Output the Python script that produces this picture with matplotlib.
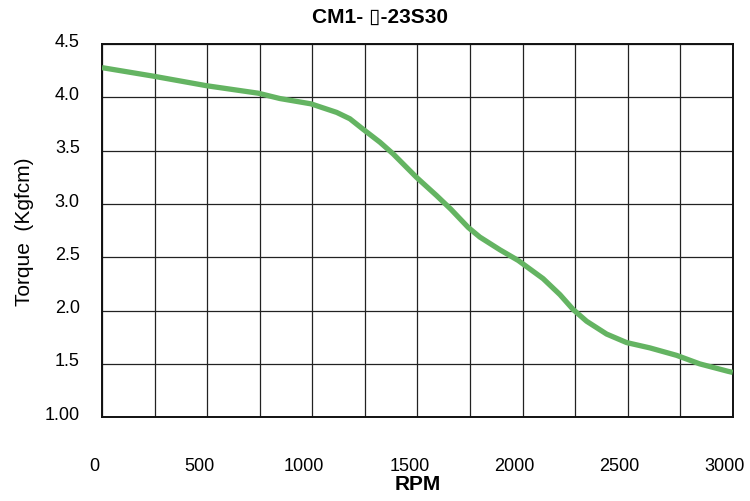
import numpy as np
import matplotlib
matplotlib.use("Agg")
import matplotlib.pyplot as plt
import matplotlib.transforms as mtransforms

# torque curve
rpm = [0, 244, 498, 743, 846, 994, 1116, 1179, 1243, 1322, 1385, 1496, 1591, 1660,
       1742, 1797, 1893, 1980, 2098, 2178, 2241, 2305, 2400, 2495, 2606, 2733, 2843,
       2978, 3000]
torque = [4.28, 4.20, 4.11, 4.04, 3.99, 3.94, 3.86, 3.80, 3.70, 3.58, 3.47, 3.25, 3.08, 2.95,
          2.78, 2.69, 2.57, 2.47, 2.30, 2.15, 2.01, 1.90, 1.78, 1.70, 1.65, 1.58, 1.50,
          1.43, 1.42]

xticks = [0, 500, 1000, 1500, 2000, 2500, 3000]
yticks = [1.0, 1.5, 2.0, 2.5, 3.0, 3.5, 4.0, 4.5]
ylabels = ["1.00", "1.5", "2.0", "2.5", "3.0", "3.5", "4.0", "4.5"]

fonts = ["Liberation Sans", "DejaVu Sans"]

fig = plt.figure(figsize=(7.5, 5.02), dpi=100)
ax = fig.add_axes([0.136, 0.167, 0.841, 0.743])

ax.plot(rpm, torque, color="#64b462", lw=3.8, solid_capstyle="butt",
        solid_joinstyle="round", zorder=3)

ax.set_xlim(0, 3000)
ax.set_ylim(1.0, 4.5)
ax.set_xticks(xticks)
ax.set_xticks(np.arange(0, 3001, 250), minor=True)
ax.set_yticks(yticks)
ax.set_yticklabels(ylabels)
ax.grid(True, which="both", color="#222222", lw=0.9)
ax.tick_params(which="both", length=0)
ax.tick_params(axis="x", pad=29)
ax.tick_params(axis="y", pad=16)
for lab in ax.get_xticklabels():
    lab.set_family(fonts)
    lab.set_fontsize(13)
    lab.set_transform(lab.get_transform() + mtransforms.ScaledTranslation(-0.08, 0, fig.dpi_scale_trans))
for lab in ax.get_yticklabels():
    lab.set_family(fonts)
    lab.set_fontsize(13)
    lab.set_transform(lab.get_transform() + mtransforms.ScaledTranslation(0, 0.05, fig.dpi_scale_trans))
for s in ax.spines.values():
    s.set_color("#111111")
    s.set_linewidth(1.4)

ax.set_xlabel("RPM", family=fonts, fontsize=15, fontweight="bold", labelpad=0)
ax.set_ylabel("Torque  (Kgfcm)", family=fonts, fontsize=15, labelpad=8)
# title is centred on the figure, not on the axes
fig.text(0.506, 0.965, "CM1- \u25af-23S30", family=fonts, fontsize=15,
         fontweight="bold", ha="center", va="center")

fig.savefig("out.png", dpi=100)
